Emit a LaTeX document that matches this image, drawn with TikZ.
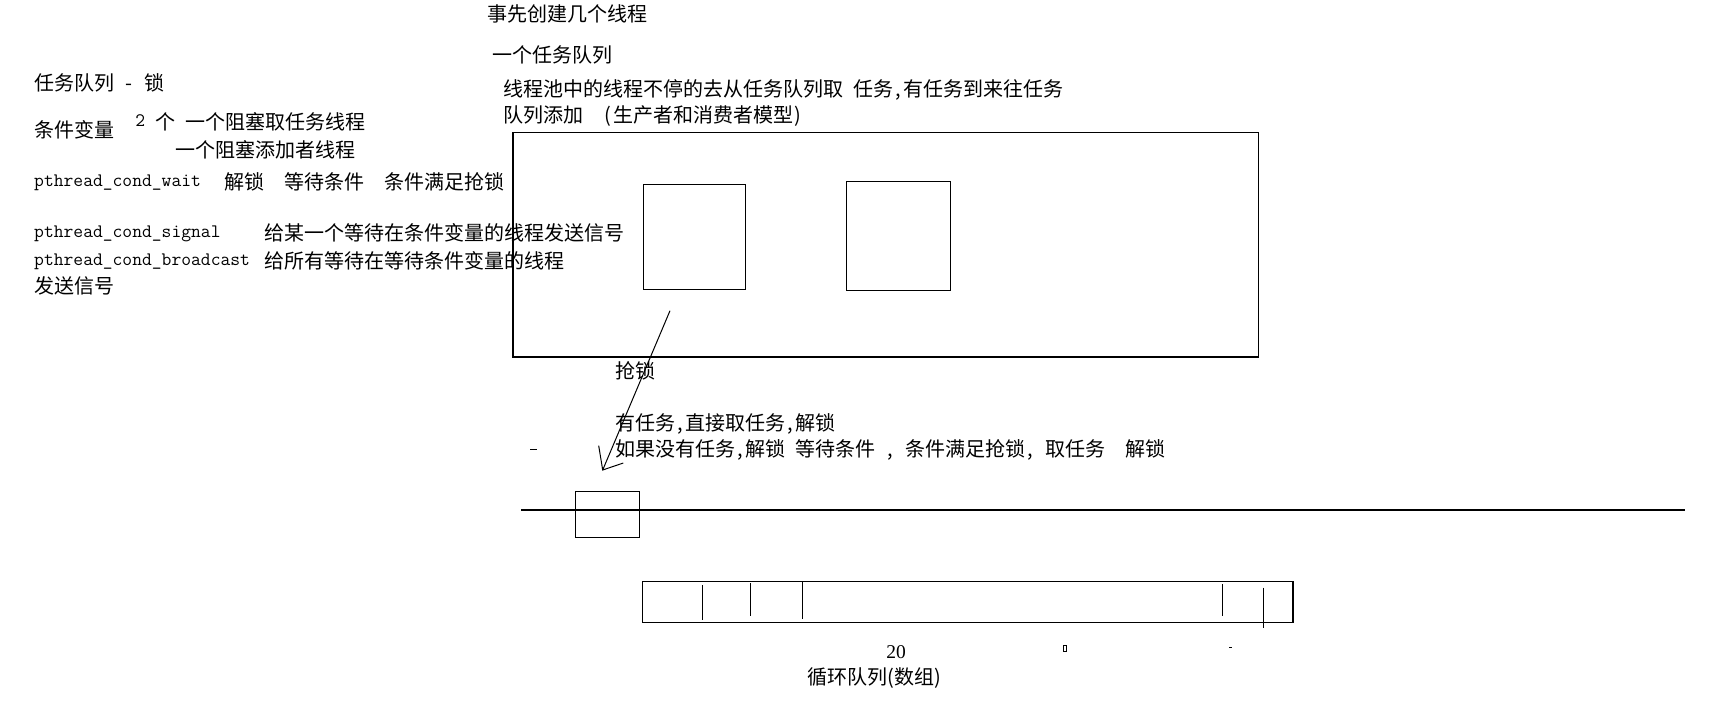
\documentclass[tikz,border=0pt]{standalone}
\usepackage{fontspec}
\setmainfont{Noto Sans CJK SC}
\newfontfamily\serifnum{Liberation Serif}
\newcommand\hs[1]{\hspace*{#10pt}}
\newcommand\hc[1]{\makebox[10pt][c]{#1}}
\newcommand\tm[1]{\raisebox{3pt}{\fontsize{19.05pt}{20pt}\ttfamily #1}}
\tikzset{
  txt/.style={anchor=west, inner sep=0pt, font=\fontsize{20pt}{24pt}\selectfont, text height=16.5pt, text depth=1.3pt},
  frame/.style={draw=black, line width=1.4pt},
  thinline/.style={draw=black, line width=1pt},
  strayline/.style={draw=black, line width=1pt},
}
\begin{document}
\begin{tikzpicture}[x=1pt,y=-1pt]
\useasboundingbox (0,0) rectangle (1716,715);
\fill[white] (0,0) rectangle (1716,715);

% top texts
\node[txt] (t1) at (487,14) {事先创建几个线程};
\node[txt] (t2) at (492,55) {一个任务队列};
\node[txt] (t3) at (503,89) {线程池中的线程不停的去从任务队列取\hs{1}任务\hc{,}有任务到来往任务};
\node[txt] (t4) at (503,115) {队列添加\hs{2}\hc{(}生产者和消费者模型\hc{)}};

% left texts
\node[txt] (l1) at (34,83) {任务队列\hs{1}\hc{-}\hs{1}锁};
\node[txt] (l2) at (34,130) {条件变量};
\node[txt] (l3) at (135,122) {\hc{\tm{2}}\hs{1}个\hs{1}一个阻塞取任务线程};
\node[txt] (l4) at (175,149.5) {一个阻塞添加者线程};
\node[txt] (l5) at (34,182) {\makebox[170pt][l]{\tm{pthread\_cond\_wait}}\hs{2}解锁\hs{2}等待条件\hs{2}条件满足抢锁};
\node[txt] (l6) at (34,233) {\makebox[190pt][l]{\tm{pthread\_cond\_signal}}\hs{4}给某一个等待在条件变量的线程发送信号};
\node[txt] (l7) at (34,260.8) {\makebox[220pt][l]{\tm{pthread\_cond\_broadcast}}\hs{1}给所有等待在等待条件变量的线程};
\node[txt] (l8) at (34,285.7) {发送信号};

% thread pool frame and thread boxes
\draw[frame] (513,132.7) rectangle (1258.6,357);
\draw[frame] (643.3,184.3) rectangle (745.3,289.3);
\draw[frame] (846.3,181.3) rectangle (950.3,290.3);

% arrow
\coordinate (arrS) at (670,310.7);
\coordinate (arrT) at (602.7,470);
\coordinate (arrH1) at (598.7,445.7);
\coordinate (arrH2) at (623.3,463);
\draw[thinline] (arrS) -- (arrT);
\draw[thinline] (arrH1) -- (arrT) -- (arrH2);

% middle texts
\node[txt] (m1) at (615,371) {抢锁};
\node[txt] (m2) at (615,423) {有任务\hc{,}直接取任务\hc{,}解锁};
\node[txt] (m3) at (615,449) {如果没有任务\hc{,}解锁\hs{1}等待条件\hs{1}\hc{,}\hs{1}条件满足抢锁\hc{,}\hs{1}取任务\hs{2}解锁};
\draw[strayline] (530,449.3) -- (536.5,449.3);

% timeline and small box
\draw[frame] (521,510) -- (1685,510);
\draw[frame] (575.3,491.3) rectangle (639.3,537.3);

% circular queue array
\draw[frame] (642.3,581.3) rectangle (1292.8,622.3);
\draw[frame] (702.6,585) -- (702.6,620);
\draw[frame] (750.4,583.3) -- (750.4,616);
\draw[frame] (802.3,581.7) -- (802.3,619.3);
\draw[frame] (1222.5,584) -- (1222.5,615.7);
\draw[frame] (1263.3,587.7) -- (1263.3,628.3);

\node[inner sep=0pt, font=\serifnum\fontsize{19.5pt}{22pt}\selectfont] (n20) at (896,652) {20};
\draw[strayline, line width=0.9pt] (1063.5,645.5) rectangle (1066.3,651);
\draw[strayline] (1229,647) -- (1231.8,647);
\node[inner sep=0pt, font=\fontsize{20pt}{24pt}\selectfont, text height=16.5pt, text depth=1.3pt] (cq) at (874,677) {循环队列(数组)};
\end{tikzpicture}
\end{document}
